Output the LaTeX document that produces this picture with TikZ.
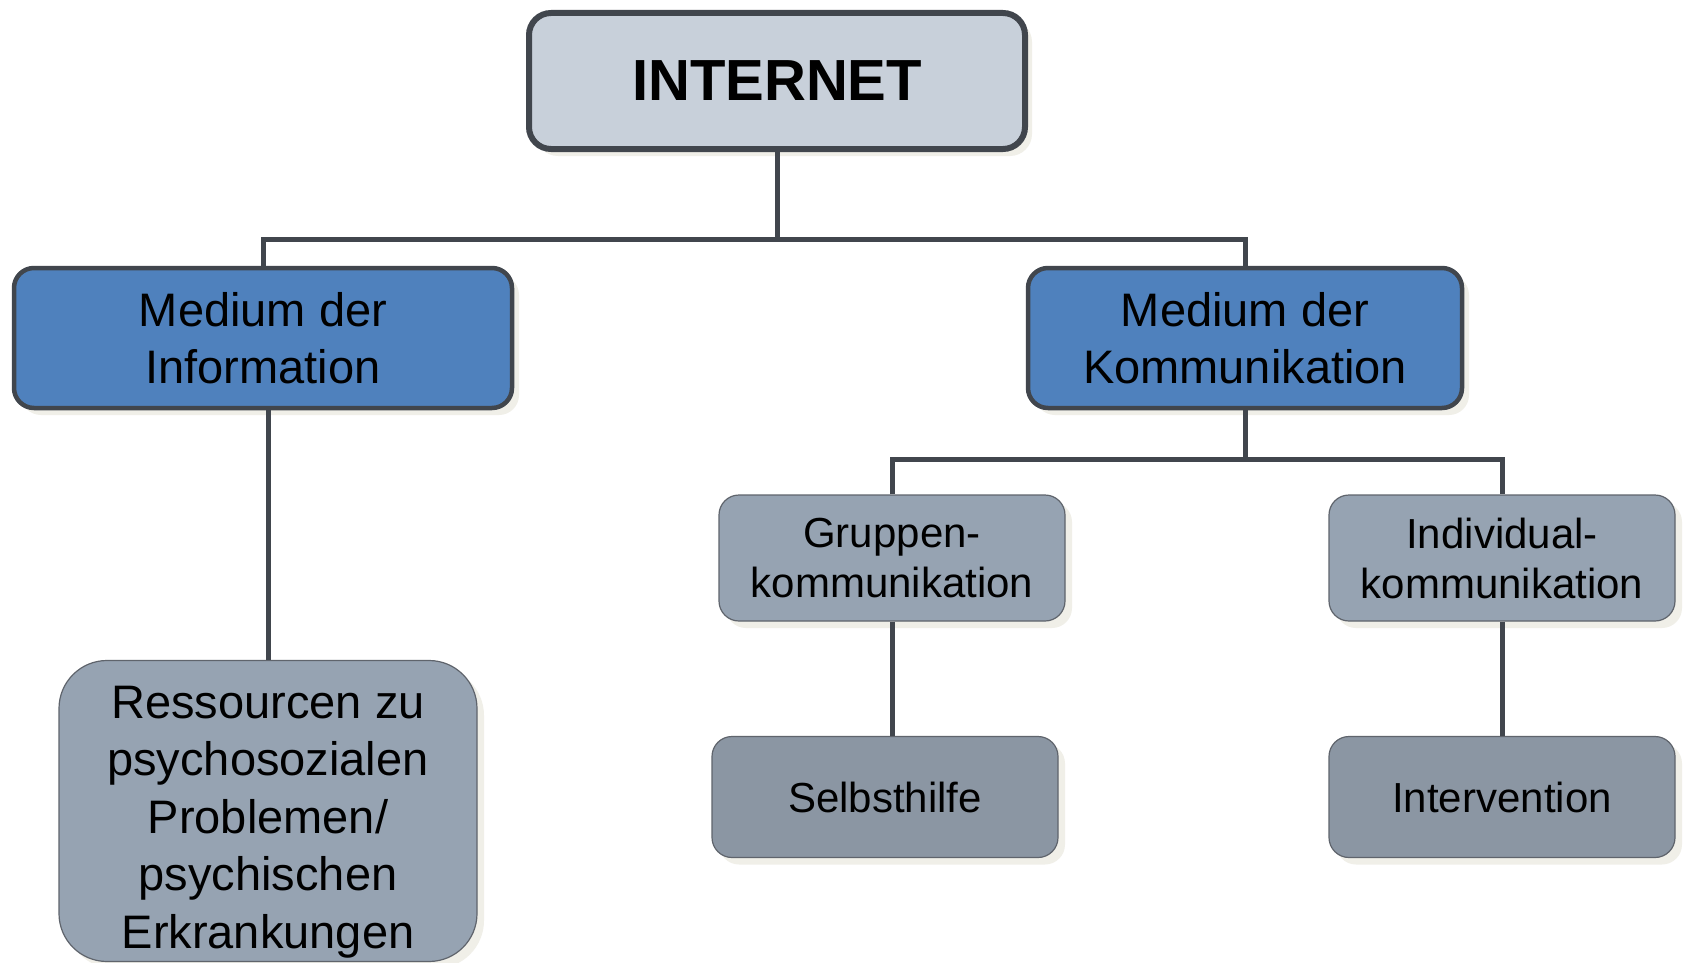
\documentclass[tikz,border=0pt]{standalone}
\usepackage{fontspec}
\setmainfont{Liberation Sans}
\usetikzlibrary{shadows}
\definecolor{topfill}{RGB}{200,208,218}
\definecolor{bluefill}{RGB}{79,129,189}
\definecolor{grayA}{RGB}{150,163,178}
\definecolor{grayB}{RGB}{139,150,163}
\definecolor{darkline}{RGB}{65,70,77}
\definecolor{thinline}{RGB}{95,100,108}
\definecolor{shadowcol}{RGB}{240,239,232}
\tikzset{
  shade box/.style={drop shadow={shadow xshift=7pt, shadow yshift=-7pt, fill=shadowcol, opacity=1}},
  topbox/.style={shade box, draw=darkline, line width=6pt, fill=topfill, rounded corners=22pt,
    minimum width=496pt, minimum height=136pt, font=\fontsize{58}{66}\selectfont\bfseries, inner sep=0pt},
  midbox/.style={shade box, draw=darkline, line width=4.5pt, fill=bluefill, rounded corners=20pt,
    minimum height=140pt, align=center, font=\fontsize{47}{57}\selectfont, inner sep=0pt},
  subbox/.style={shade box, draw=thinline, line width=1.2pt, fill=grayA, rounded corners=20pt,
    minimum width=346pt, minimum height=126pt, align=center, font=\fontsize{42}{50}\selectfont, inner sep=0pt},
  leafbox/.style={shade box, draw=thinline, line width=1.2pt, fill=grayB, rounded corners=20pt,
    minimum width=346pt, minimum height=121pt, align=center, font=\fontsize{42}{50}\selectfont, inner sep=0pt},
  bigbox/.style={shade box, draw=thinline, line width=1.2pt, fill=grayA, rounded corners=48pt,
    minimum width=418pt, minimum height=301pt, inner sep=0pt},
  bigtext/.style={align=center, font=\fontsize{47}{57.5}\selectfont, inner sep=0pt},
  conn/.style={draw=darkline, line width=5pt}
}
\begin{document}
\begin{tikzpicture}[x=1pt,y=-1pt]
\useasboundingbox[fill=white] (0,0) rectangle (1683,963);
\coordinate (j1) at (777,239);
\coordinate (j2) at (1245,459);
\node[topbox] (inet) at (777,81) {INTERNET};
\node[midbox, minimum width=498pt] (info) at (263,338) {Medium der\\Information};
\node[midbox, minimum width=434pt] (komm) at (1245,338) {Medium der\\Kommunikation};
\node[bigbox] (ress) at (268,811) {};
\node[bigtext] (resstext) at (268,822) {Ressourcen zu\\psychosozialen\\Problemen/\\psychischen\\Erkrankungen};
\node[subbox] (grp) at (892,558) {Gruppen-\\kommunikation};
\node[subbox] (ind) at (1502,558) {Individual-\\kommunikation};
\node[leafbox] (selbst) at (885,797) {Selbsthilfe};
\node[leafbox] (interv) at (1502,797) {Intervention};
\draw[conn] (inet.south) -- (j1);
\draw[conn] (info.north) |- (j1) -| (komm.north);
\draw[conn] (ress.north) -- (ress.north |- info.south);
\draw[conn] (komm.south) -- (j2);
\draw[conn] (grp.north) |- (j2) -| (ind.north);
\draw[conn] (grp.south) -- (grp.south |- selbst.north);
\draw[conn] (ind.south) -- (interv.north);
\end{tikzpicture}
\end{document}
